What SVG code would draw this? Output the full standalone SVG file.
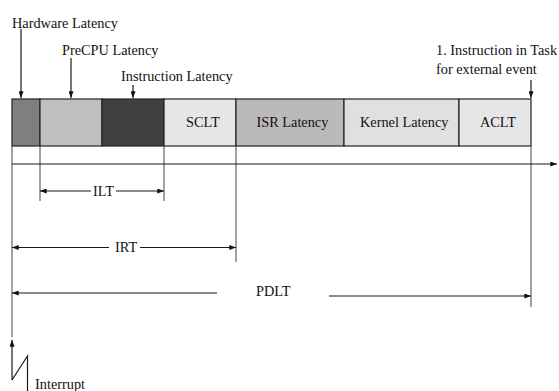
<svg xmlns="http://www.w3.org/2000/svg" width="559" height="391" viewBox="0 0 559 391">
<style>
text{font-family:"Liberation Serif","Times New Roman",serif;font-size:14.3px;fill:#111}
.ln{stroke:#1a1a1a;stroke-width:1.2;fill:none}
.vl{stroke:#444;stroke-width:1;fill:none}
.box{stroke:#222;stroke-width:1.2}
</style>
<defs>
<marker id="ah" viewBox="0 0 8 6" refX="8" refY="3" markerWidth="7" markerHeight="5" markerUnits="userSpaceOnUse" orient="auto-start-reverse"><path d="M0,0L8,3L0,6z" fill="#111"/></marker>
</defs>
<rect width="559" height="391" fill="#fff"/>
<g id="hw"><rect class="box" x="12" y="99" width="28" height="47" fill="#7f7f7f"/></g>
<g id="precpu"><rect class="box" x="40" y="99" width="62" height="47" fill="#bfbfbf"/></g>
<g id="instr"><rect class="box" x="102" y="99" width="62" height="47" fill="#404040"/></g>
<g id="sclt"><rect class="box" x="164" y="99" width="72" height="47" fill="#e6e6e6"/><text x="186" y="127">SCLT</text></g>
<g id="isr"><rect class="box" x="236" y="99" width="108" height="47" fill="#bababa"/><text x="256.5" y="127">ISR Latency</text></g>
<g id="kernel"><rect class="box" x="344" y="99" width="115" height="47" fill="#e0e0e0"/><text x="360" y="127">Kernel Latency</text></g>
<g id="aclt"><rect class="box" x="459" y="99" width="72" height="47" fill="#e6e6e6"/><text x="480" y="127">ACLT</text></g>
<g id="labels">
<text x="12" y="28">Hardware Latency</text>
<text x="62" y="55">PreCPU Latency</text>
<text x="121" y="81">Instruction Latency</text>
<text x="436" y="55">1. Instruction in Task</text>
<text x="436" y="74">for external event</text>
<text x="93" y="196">ILT</text>
<text x="115" y="252">IRT</text>
<text x="256" y="296">PDLT</text>
<text x="35" y="389">Interrupt</text>
</g>
<g id="connectors">
<line class="ln" x1="21" y1="29" x2="21" y2="98" marker-end="url(#ah)"/>
<line class="ln" x1="71" y1="58" x2="71" y2="98" marker-end="url(#ah)"/>
<line class="ln" x1="133" y1="85" x2="133" y2="98" marker-end="url(#ah)"/>
<line class="ln" x1="531" y1="80" x2="531" y2="98" marker-end="url(#ah)"/>
<line class="vl" x1="12" y1="146" x2="12" y2="337"/>
<line class="vl" x1="40" y1="146" x2="40" y2="201"/>
<line class="vl" x1="164" y1="146" x2="164" y2="201"/>
<line class="vl" x1="236" y1="146" x2="236" y2="262"/>
<line class="vl" x1="531" y1="146" x2="531" y2="307"/>
<line class="ln" x1="12" y1="164" x2="557" y2="164" marker-end="url(#ah)"/>
<line class="ln" x1="40" y1="191" x2="91" y2="191" marker-start="url(#ah)"/>
<line class="ln" x1="116" y1="191" x2="164" y2="191" marker-end="url(#ah)"/>
<line class="ln" x1="12" y1="247.5" x2="109" y2="247.5" marker-start="url(#ah)"/>
<line class="ln" x1="140" y1="247.5" x2="236" y2="247.5" marker-end="url(#ah)"/>
<line class="ln" x1="12" y1="293" x2="217" y2="293" marker-start="url(#ah)"/>
<line class="ln" x1="329" y1="296" x2="531" y2="296" marker-end="url(#ah)"/>
<line class="ln" x1="12" y1="380" x2="12" y2="340" marker-end="url(#ah)"/>
<path class="ln" d="M12,380L27.5,356L27.5,391"/>
</g>
</svg>
